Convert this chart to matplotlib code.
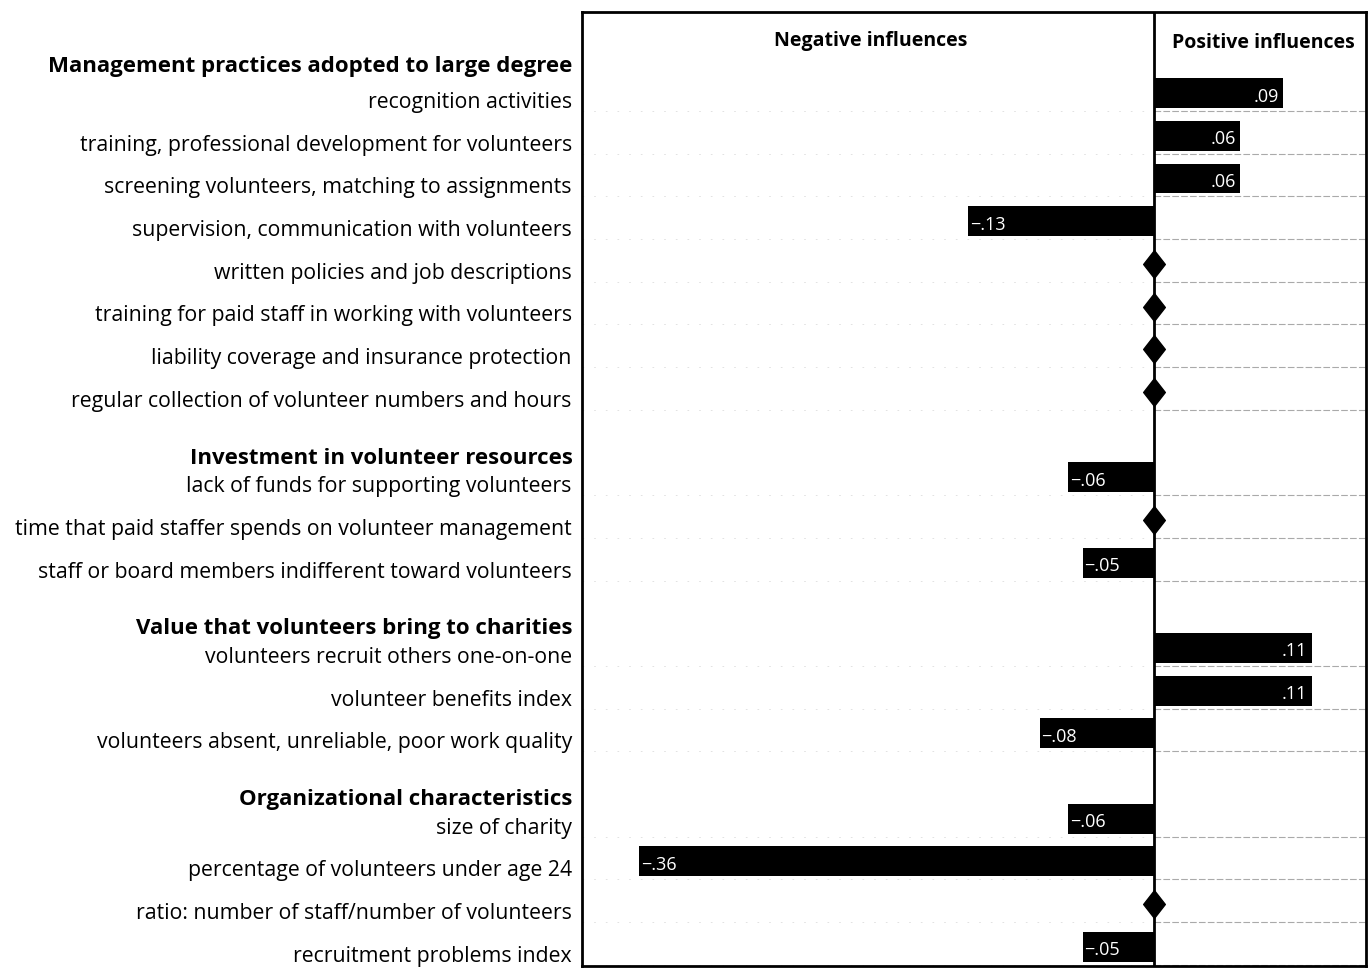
import matplotlib.pyplot as plt
from matplotlib.path import Path

# Group headers and the items under each one
groups = ['Management practices adopted to large degree',
          'Investment in volunteer resources',
          'Value that volunteers bring to charities',
          'Organizational characteristics']

items = [
    ['recognition activities',
     'training, professional development for volunteers',
     'screening volunteers, matching to assignments',
     'supervision, communication with volunteers',
     'written policies and job descriptions',
     'training for paid staff in working with volunteers',
     'liability coverage and insurance protection',
     'regular collection of volunteer numbers and hours'],
    ['lack of funds for supporting volunteers',
     'time that paid staffer spends on volunteer management',
     'staff or board members indifferent toward volunteers'],
    ['volunteers recruit others one-on-one',
     'volunteer benefits index',
     'volunteers absent, unreliable, poor work quality'],
    ['size of charity',
     'percentage of volunteers under age 24',
     'ratio: number of staff/number of volunteers',
     'recruitment problems index'],
]

# None = no significant influence (drawn as a diamond on the zero line)
values = [
    [0.09, 0.06, 0.06, -0.13, None, None, None, None],
    [-0.06, None, -0.05],
    [0.11, 0.11, -0.08],
    [-0.06, -0.36, None, -0.05],
]

xmin, xmax = -0.40, 0.148

fig = plt.figure(figsize=(13.69, 9.68), dpi=100)
ax = fig.add_axes([582 / 1369, 2 / 968, 784 / 1369, 954 / 968])

font = 'Open Sans'
diamond = Path([(0, 1), (0.78, 0), (0, -1), (-0.78, 0), (0, 1)],
               [Path.MOVETO, Path.LINETO, Path.LINETO, Path.LINETO, Path.CLOSEPOLY])

# walk through groups, leaving one empty slot for each header after the first
row = 0
rows = []
for g, (name, labels, vals) in enumerate(zip(groups, items, values)):
    if g > 0:
        row += 1
        hoff = -0.45
    else:
        hoff = -0.62
    ax.text(-0.012, row + hoff, name, transform=ax.get_yaxis_transform(),
            ha='right', va='center', fontsize=16, fontweight='bold',
            family=font)
    for label, v in zip(labels, vals):
        ax.text(-0.013, row + 0.22, label, transform=ax.get_yaxis_transform(),
                ha='right', va='center', fontsize=15.3, family=font)
        if v is None:
            ax.plot(0, row, marker=diamond, markersize=20, color='black',
                    zorder=4)
        else:
            ax.barh(row, v, height=0.7, color='black', zorder=3)
            txt = ('%.2f' % abs(v)).lstrip('0')
            if v > 0:
                ax.text(v - 0.003, row + 0.08, txt, color='white',
                        ha='right', va='center', fontsize=13, family=font,
                        zorder=5)
            else:
                ax.text(v + 0.001, row + 0.08, '\u2212' + txt, color='white',
                        ha='left', va='center', fontsize=13, family=font,
                        zorder=5)
        rows.append(row)
        row += 1

# faint row separators like on the printed page
for r in rows:
    ax.plot([0, xmax], [r + 0.42, r + 0.42], color='#aaaaaa', lw=0.8,
            ls=(0, (6, 2)), zorder=1)
    ax.plot([xmin, 0], [r + 0.42, r + 0.42], color='#dddddd', lw=0.6,
            ls=(0, (2, 12)), zorder=1)

ax.axvline(0, color='black', lw=2, zorder=2)

ax.text(-0.198, -1.22, 'Negative influences', ha='center', va='center',
        fontsize=14, fontweight='bold', family=font)
ax.text(0.0765, -1.17, 'Positive influences', ha='center', va='center',
        fontsize=14, fontweight='bold', family=font)

ax.set_xlim(xmin, xmax)
ax.set_ylim(20.45, -1.9)
ax.set_xticks([])
ax.set_yticks([])
for s in ax.spines.values():
    s.set_linewidth(2)
    s.set_color('black')

fig.savefig('out.png', dpi=100)
